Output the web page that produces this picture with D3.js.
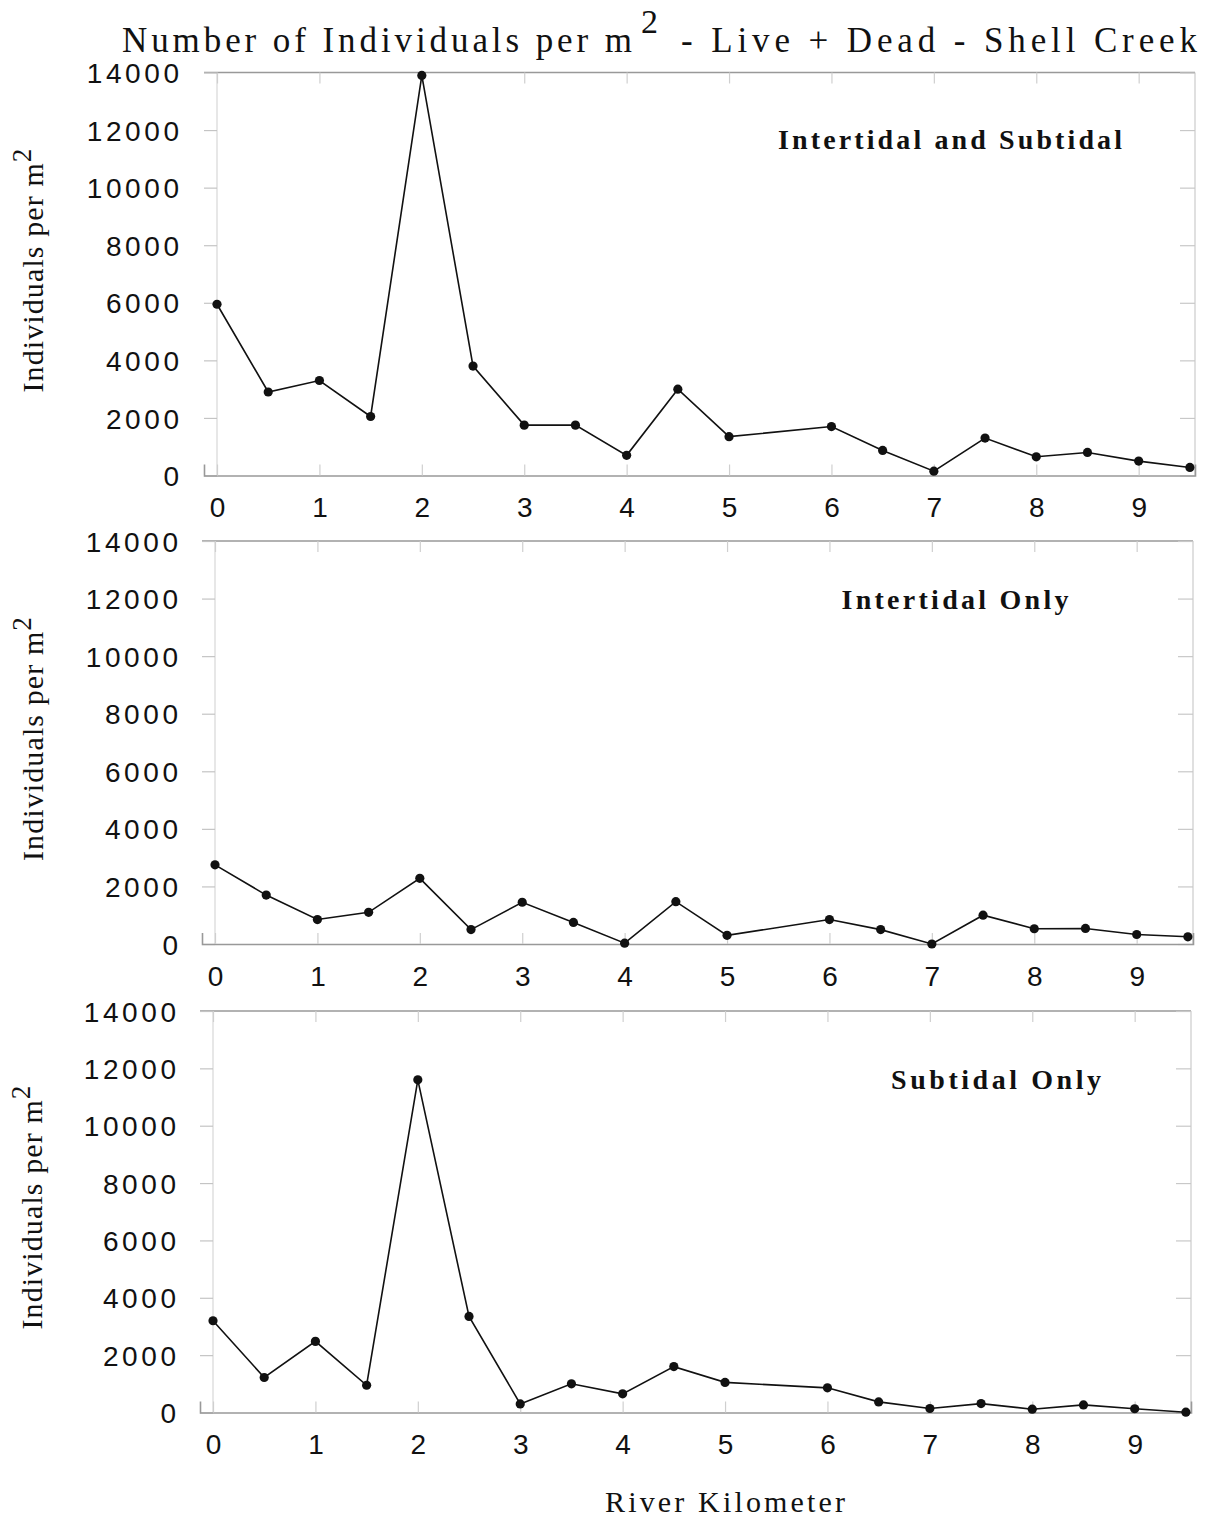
<!DOCTYPE html>
<html>
<head>
<meta charset="utf-8">
<script src="https://cdn.jsdelivr.net/npm/d3@7/dist/d3.min.js"></script>
<style>
  html, body { margin: 0; padding: 0; background: #fff; }
  svg { display: block; }
</style>
</head>
<body>
<svg id="chart" width="1205" height="1519"></svg>
<script>
// ---- Data ----
const riverKm = [0, 0.5, 1, 1.5, 2, 2.5, 3, 3.5, 4, 4.5, 5, 6, 6.5, 7, 7.5, 8, 8.5, 9, 9.5];
const intertidalAndSubtidal = [5950, 2900, 3300, 2050, 13900, 3800, 1750, 1750, 700, 3000, 1350, 1700, 870, 150, 1300, 650, 800, 500, 280];
const intertidalOnly = [2750, 1700, 850, 1100, 2280, 500, 1450, 750, 30, 1470, 300, 850, 500, 0, 1000, 530, 540, 330, 250];
const subtidalOnly = [3200, 1220, 2480, 950, 11600, 3350, 300, 1000, 650, 1600, 1050, 860, 370, 140, 310, 115, 265, 130, 10];
const panelLabels = ["Intertidal and Subtidal", "Intertidal Only", "Subtidal Only"];
const yTickValues = [0, 2000, 4000, 6000, 8000, 10000, 12000, 14000];
const xTickValues = [0, 1, 2, 3, 4, 5, 6, 7, 8, 9];
const titleMain = "Number of Individuals per m";
const titleSup = "2";
const titleRest = "- Live + Dead - Shell Creek";
const yAxisTitle = "Individuals per m";
const xAxisTitle = "River Kilometer";

const seriesList = [intertidalAndSubtidal, intertidalOnly, subtidalOnly];

// ---- Layout (per panel) ----
const panels = [
  { left: 204, right: 1195, top: 72.5, bottom: 475.5, labelX: 950, labelY: 149, labelW: 344, yTitleX: 43, tickEnd: 179 },
  { left: 202, right: 1193, top: 541, bottom: 944, labelX: 955, labelY: 609, labelW: 227, yTitleX: 43, tickEnd: 178 },
  { left: 200, right: 1191, top: 1011, bottom: 1412.5, labelX: 996, labelY: 1089, labelW: 210, yTitleX: 42, tickEnd: 176 }
];

const svg = d3.select("#chart");
const serif = "'Liberation Serif', 'Times New Roman', Times, serif";
const sans = "'Liberation Sans', Arial, Helvetica, sans-serif";

function fitSpacing(sel, target) {
  const node = sel.node();
  const len = node.getComputedTextLength();
  const n = node.textContent.length;
  sel.attr("letter-spacing", (target - len) / Math.max(1, n - 1));
}

// ---- Title ----
const tMain = svg.append("text").attr("x", 122).attr("y", 52)
  .attr("font-family", serif).attr("font-size", 35).attr("fill", "#111").text(titleMain);
fitSpacing(tMain, 510);
svg.append("text").attr("x", 641).attr("y", 33)
  .attr("font-family", serif).attr("font-size", 34).attr("fill", "#111").text(titleSup);
const tRest = svg.append("text").attr("x", 681).attr("y", 52)
  .attr("font-family", serif).attr("font-size", 35).attr("fill", "#111").text(titleRest);
fitSpacing(tRest, 516);

panels.forEach((p, i) => {
  const data = riverKm.map((k, j) => ({ k, v: seriesList[i][j] }));
  const x = d3.scaleLinear().domain([-0.127, 9.55]).range([p.left, p.right]);
  const y = d3.scaleLinear().domain([0, 14000]).range([p.bottom, p.top]);
  const g = svg.append("g");

  // right border
  g.append("line")
    .attr("x1", p.right).attr("x2", p.right).attr("y1", p.top).attr("y2", p.bottom)
    .attr("stroke", "#d0d0d0").attr("stroke-width", 1.3);
  // vertical line at x = 0 (y-axis line)
  g.append("line")
    .attr("x1", x(0)).attr("x2", x(0)).attr("y1", p.top).attr("y2", p.bottom)
    .attr("stroke", "#dadada").attr("stroke-width", 1.3);
  // top border, darker
  g.append("line")
    .attr("x1", p.left).attr("x2", p.right).attr("y1", p.top).attr("y2", p.top)
    .attr("stroke", "#999").attr("stroke-width", 1.6);

  // inward ticks at top
  g.append("g").attr("transform", `translate(0,${p.top})`)
    .call(d3.axisBottom(x).tickValues(xTickValues).tickSize(11).tickFormat(""))
    .call(s => s.select(".domain").remove())
    .call(s => s.selectAll("line").attr("stroke", "#cfcfcf").attr("stroke-width", 1.2));
  // inward ticks at right
  g.append("g").attr("transform", `translate(${p.right},0)`)
    .call(d3.axisLeft(y).tickValues(yTickValues).tickSize(15).tickFormat(""))
    .call(s => s.select(".domain").remove())
    .call(s => s.selectAll("line").attr("stroke", "#c8c8c8").attr("stroke-width", 1.2));

  // left y-axis: ticks run from the frame edge to the x = 0 line
  const ya = g.append("g").attr("transform", `translate(${x(0)},0)`)
    .call(d3.axisLeft(y).tickValues(yTickValues).tickSize(x(0) - p.left)
      .tickPadding(p.left - p.tickEnd).tickFormat(d3.format("d")));
  ya.select(".domain").remove();
  ya.selectAll("line").attr("stroke", "#c4c4c4").attr("stroke-width", 1.2);
  ya.selectAll("text")
    .attr("font-family", sans).attr("font-size", 28).attr("fill", "#111")
    .attr("letter-spacing", 3.6).attr("dy", "0.36em")
    .attr("dx", 3.6);

  // bottom x-axis (baseline)
  const xa = g.append("g").attr("transform", `translate(0,${p.bottom})`)
    .call(d3.axisBottom(x).tickValues(xTickValues).tickSize(-11).tickPadding(22).tickFormat(d3.format("d")));
  xa.select(".domain").attr("stroke", "#999").attr("stroke-width", 1.6);
  xa.selectAll("line").attr("stroke", "#cfcfcf").attr("stroke-width", 1.2);
  xa.selectAll("text")
    .attr("font-family", sans).attr("font-size", 28).attr("fill", "#111");

  // series line + markers
  g.append("path").datum(data)
    .attr("fill", "none").attr("stroke", "#111").attr("stroke-width", 1.6)
    .attr("d", d3.line().x(d => x(d.k)).y(d => y(d.v)));
  g.selectAll("circle.pt").data(data).enter().append("circle")
    .attr("class", "pt")
    .attr("cx", d => x(d.k)).attr("cy", d => y(d.v)).attr("r", 4.6)
    .attr("fill", "#111");

  // panel label
  const lab = g.append("text")
    .attr("x", p.labelX - p.labelW / 2).attr("y", p.labelY)
    .attr("font-family", serif).attr("font-weight", "bold").attr("font-size", 28)
    .attr("fill", "#111")
    .text(panelLabels[i]);
  fitSpacing(lab, p.labelW);

  // y-axis title (reads bottom to top)
  const yt = g.append("text")
    .attr("transform", `translate(${p.yTitleX},${p.bottom - 83}) rotate(-90)`)
    .attr("text-anchor", "start")
    .attr("font-family", serif).attr("font-size", 30).attr("fill", "#111")
    .attr("letter-spacing", 1.1);
  yt.append("tspan").text(yAxisTitle);
  yt.append("tspan").attr("dy", -12).attr("dx", 0).attr("font-size", 27).text("2");
});

// x-axis title
const xt = svg.append("text")
  .attr("x", 605).attr("y", 1512)
  .attr("font-family", serif).attr("font-size", 30).attr("fill", "#111")
  .text(xAxisTitle);
fitSpacing(xt, 240);
</script>
</body>
</html>
